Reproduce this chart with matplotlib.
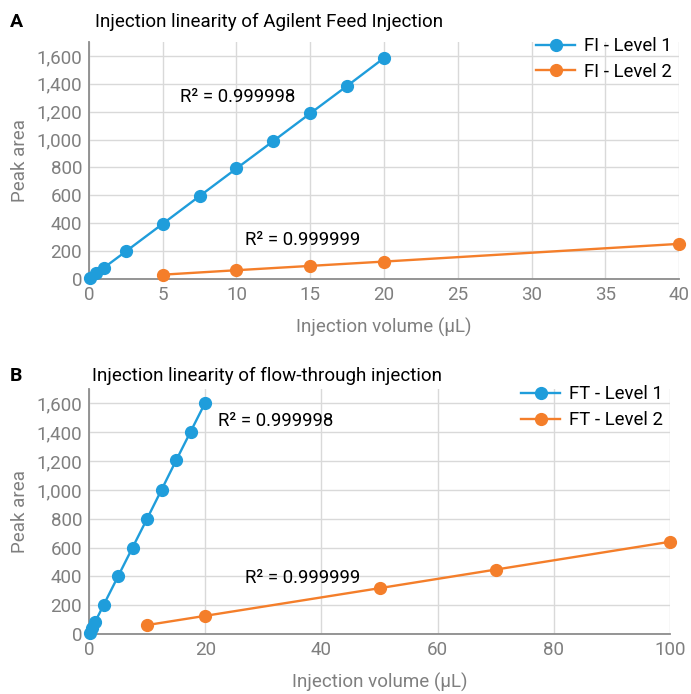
import matplotlib
matplotlib.use("Agg")
import matplotlib.pyplot as plt
from matplotlib.ticker import FuncFormatter

plt.rcParams['font.family'] = ['Roboto', 'DejaVu Sans']

# data
fi_l1_x = [0.1, 0.5, 1, 2.5, 5, 7.5, 10, 12.5, 15, 17.5, 20]
fi_l1_y = [8, 40, 80, 198, 396, 595, 793, 990, 1188, 1385, 1585]
fi_l2_x = [5, 10, 15, 20, 40]
fi_l2_y = [31, 63, 94, 125, 252]

ft_l1_x = [0.1, 0.5, 1, 2.5, 5, 7.5, 10, 12.5, 15, 17.5, 20]
ft_l1_y = [8, 40, 80, 200, 400, 600, 800, 1002, 1205, 1405, 1605]
ft_l2_x = [10, 20, 50, 70, 100]
ft_l2_y = [62, 126, 318, 447, 640]

BLUE = "#1f9ddb"
ORANGE = "#f47e2a"
GRAY = "#7f7f7f"

fig = plt.figure(figsize=(6.91, 6.94), dpi=100)
W, H = 691, 694
ax1 = fig.add_axes([89 / W, 1 - 279 / H, (679 - 89) / W, (279 - 42) / H])
ax2 = fig.add_axes([89 / W, 1 - 634 / H, (670 - 89) / W, (634 - 389) / H])

comma = FuncFormatter(lambda v, p: f"{int(v):,}")


def style(ax, xlim, xticks):
    ax.set_xlim(*xlim)
    ax.set_ylim(0, 1700)
    ax.set_xticks(xticks)
    ax.set_yticks(range(0, 1601, 200))
    ax.yaxis.set_major_formatter(comma)
    ax.grid(True, color="#d9d9d9", linewidth=1)
    ax.set_axisbelow(True)
    for s in ["top", "right"]:
        ax.spines[s].set_visible(False)
    for s in ["left", "bottom"]:
        ax.spines[s].set_color("#8c8c8c")
        ax.spines[s].set_linewidth(1.3)
    ax.tick_params(length=0, labelsize=13.5, labelcolor=GRAY, pad=5)
    ax.set_ylabel("Peak area", fontsize=13.5, color=GRAY, labelpad=5)
    ax.set_xlabel("Injection volume (µL)", fontsize=13.5, color=GRAY, labelpad=10)


kw = dict(linewidth=1.7, marker="o", markersize=8.5, clip_on=False, zorder=3)
lkw = dict(loc="upper right", frameon=False, fontsize=13.4, handlelength=2.1,
           borderaxespad=0, labelspacing=0.42, handletextpad=0.45)

ax1.plot(fi_l1_x, fi_l1_y, color=BLUE, label="FI - Level 1", **kw)
ax1.plot(fi_l2_x, fi_l2_y, color=ORANGE, label="FI - Level 2", **kw)
style(ax1, (0, 40), range(0, 41, 5))
ax1.text(6.2, 1306, "R² = 0.999998", fontsize=13.4, va="center")
ax1.text(10.6, 280, "R² = 0.999999", fontsize=13.4, va="center")
ax1.legend(bbox_to_anchor=(1.0, 1.052), **lkw)
fig.text(10 / W, 1 - 22 / H, "A", fontsize=14, fontweight="bold", va="center")
fig.text(95 / W, 1 - 22 / H, "Injection linearity of Agilent Feed Injection",
         fontsize=13.5, va="center")

ax2.plot(ft_l1_x, ft_l1_y, color=BLUE, label="FT - Level 1", **kw)
ax2.plot(ft_l2_x, ft_l2_y, color=ORANGE, label="FT - Level 2", **kw)
style(ax2, (0, 100), range(0, 101, 20))
ax2.text(22.2, 1476, "R² = 0.999998", fontsize=13.4, va="center")
ax2.text(26.8, 386, "R² = 0.999999", fontsize=13.4, va="center")
ax2.legend(bbox_to_anchor=(1.0, 1.045), **lkw)
fig.text(10 / W, 1 - 376 / H, "B", fontsize=14, fontweight="bold", va="center")
fig.text(92 / W, 1 - 376 / H, "Injection linearity of flow-through injection",
         fontsize=13.5, va="center")

fig.savefig("out.png", dpi=100)
